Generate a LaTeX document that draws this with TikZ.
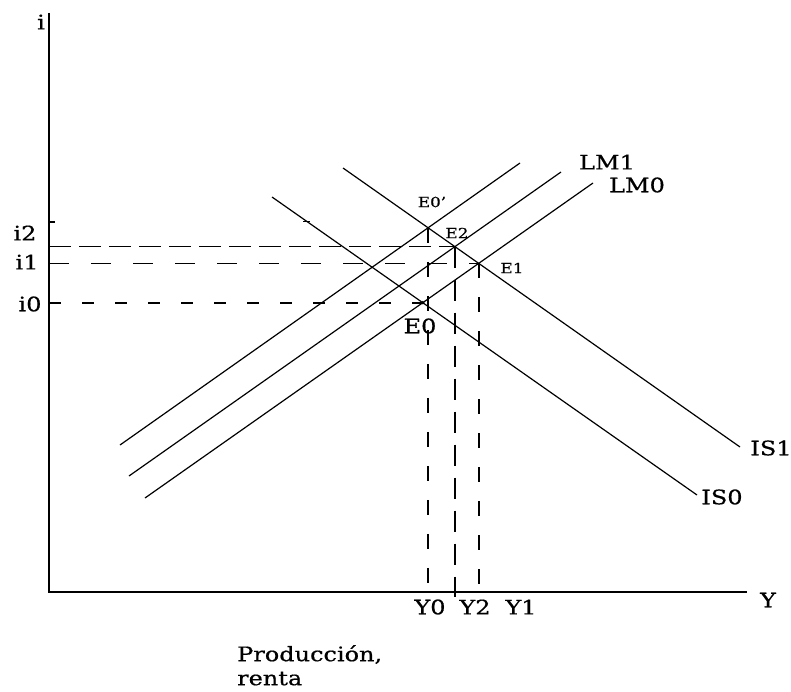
\documentclass[tikz,border=0pt]{standalone}
\usepackage{fontspec}
\setmainfont{DejaVu Serif}[FakeStretch=1.2,FakeBold=0.6]
\begin{document}
\begin{tikzpicture}[x=1pt,y=-1pt,
  curve/.style={line width=1.2pt},
  axisline/.style={line width=1.8pt},
  dashtwo/.style={line width=1.6pt, dash pattern=on 22pt off 8pt},
  dashone/.style={line width=1.6pt, dash pattern=on 20pt off 22pt},
  dashzero/.style={line width=1.6pt, dash pattern=on 12pt off 21pt},
  vdashzero/.style={line width=1.7pt, dash pattern=on 15pt off 19pt},
  vdashtwo/.style={line width=1.7pt, dash pattern=on 21pt off 12pt},
  vdashone/.style={line width=1.7pt, dash pattern=on 15pt off 19pt},
  lbl/.style={font=\fontsize{20}{24}\selectfont, inner sep=0pt},
  slbl/.style={font=\fontsize{14}{16}\selectfont, inner sep=0pt}]
\useasboundingbox (0,0) rectangle (791,692);

% axes
\coordinate (O) at (49,592);
\coordinate (T) at (49,13);
\coordinate (X) at (747,592);
\draw[axisline] (T) -- (O) -- (X);
\coordinate (tk1) at (49,222);
\coordinate (tk2) at (55,222);
\draw[line width=1.2pt] (tk1) -- (tk2);

% LM and IS lines
\coordinate (LMa1) at (120,445); \coordinate (LMa2) at (520,163);
\coordinate (LMb1) at (129,476); \coordinate (LMb2) at (561,172);
\coordinate (LMc1) at (145,498); \coordinate (LMc2) at (593,183);
\coordinate (ISa1) at (343,168); \coordinate (ISa2) at (740,447);
\coordinate (ISb1) at (272,197); \coordinate (ISb2) at (697,495);
\draw[curve] (LMa1) -- (LMa2);
\draw[curve] (LMb1) -- (LMb2);
\draw[curve] (LMc1) -- (LMc2);
\draw[curve] (ISa1) -- (ISa2);
\draw[curve] (ISb1) -- (ISb2);
\coordinate (st1) at (303,222);
\coordinate (st2) at (310,222);
\draw[line width=1pt] (st1) -- (st2);

% equilibria
\coordinate (E0) at (intersection of LMc1--LMc2 and ISb1--ISb2);
\coordinate (E1) at (intersection of LMc1--LMc2 and ISa1--ISa2);
\coordinate (E2) at (intersection of LMb1--LMb2 and ISa1--ISa2);
\coordinate (E0p) at (intersection of LMa1--LMa2 and ISa1--ISa2);

% dashed guides
\draw[dashtwo] (O |- E2) -- (E2);
\draw[dashone] (O |- E1) -- (E1);
\draw[dashzero] (O |- E0) -- (E0);
\draw[vdashzero] (E0p) -- ([yshift=-5pt]E0p |- O);
\draw[vdashtwo] (E2) -- ([yshift=-5pt]E2 |- O);
\draw[vdashone] (E1) -- ([yshift=-5pt]E1 |- O);
\fill (E0) circle (1.8pt);

% labels
\node[lbl] (li) at (41,22) {i};
\node[lbl] (li2) at (25,233) {i2};
\node[lbl] (li1) at (27,262) {i1};
\node[lbl] (li0) at (30,304) {i0};
\node[slbl] (lE0p) at (432,202) {E0'};
\node[slbl] (lE2) at (457,233) {E2};
\node[slbl] (lE1) at (512,268) {E1};
\node[lbl] (lE0) at (420,326) {E0};
\node[lbl] (lLM1) at (607,162) {LM1};
\node[lbl] (lLM0) at (637,185) {LM0};
\node[lbl] (lIS1) at (771,448) {IS1};
\node[lbl] (lIS0) at (722,497) {IS0};
\node[lbl] (lY) at (768,600) {Y};
\node[lbl] (lY0) at (430,607) {Y0};
\node[lbl] (lY2) at (475,607) {Y2};
\node[lbl] (lY1) at (521,607) {Y1};
\node[lbl, anchor=north west, align=left] (lprod) at (237,645) {Producción,\\renta};
\end{tikzpicture}
\end{document}
